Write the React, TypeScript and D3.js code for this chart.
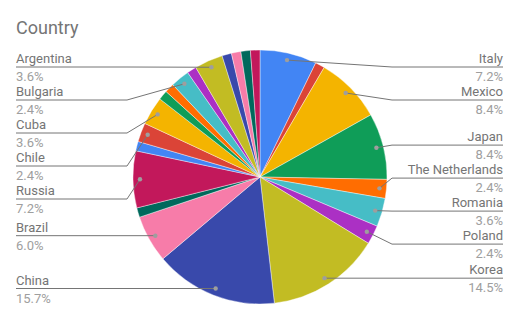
import React from "react";
import * as d3 from "d3";

const title = "Country";
// Slices in drawing order (clockwise from 12 o'clock). Small slices carry no visible label.
const categories = [
  "Italy", "Other 1", "Mexico", "Japan", "The Netherlands", "Romania", "Poland", "Korea",
  "China", "Brazil", "Other 2", "Russia", "Other 3", "Chile", "Cuba", "Other 4",
  "Other 5", "Bulgaria", "Other 6", "Argentina", "Other 7", "Other 8", "Other 9", "Other 10",
];
const counts = [6, 1, 7, 7, 2, 3, 2, 12, 13, 5, 1, 6, 1, 2, 3, 1, 1, 2, 1, 3, 1, 1, 1, 1];
const palette = [
  "#4285f4", "#db4437", "#f4b400", "#0f9d58", "#ff6d01", "#46bdc6",
  "#ab30c4", "#c2bc23", "#3949ab", "#f77ca9", "#00695c", "#c2185b",
];

const W = 519;
const H = 321;
const cx = 260;
const cy = 177;
const R = 127;
const dotR = 120;
const gap = 33;
const minLineY = 67;

function layout(targets: number[]): number[] {
  type C = { idx: number[]; start: number };
  const clusters: C[] = [];
  targets.forEach((t, i) => {
    clusters.push({ idx: [i], start: t });
    while (clusters.length > 1) {
      const b = clusters[clusters.length - 1];
      const a = clusters[clusters.length - 2];
      const aEnd = a.start + (a.idx.length - 1) * gap;
      if (aEnd + gap > b.start) {
        const idx = [...a.idx, ...b.idx];
        const s = d3.mean(idx.map((j, k) => targets[j] - k * gap)) as number;
        clusters.splice(clusters.length - 2, 2, { idx, start: s });
      } else break;
    }
  });
  const pos: number[] = new Array(targets.length);
  clusters.forEach((c) => c.idx.forEach((j, k) => (pos[j] = c.start + k * gap)));
  for (let i = 0; i < pos.length; i++) {
    pos[i] = Math.max(pos[i], minLineY, i > 0 ? pos[i - 1] + gap : -Infinity);
  }
  return pos;
}

export default function App() {
  const total = d3.sum(counts);
  const data = categories.map((c, i) => ({ name: c, value: counts[i], color: palette[i % palette.length] }));
  const pie = d3.pie<any>().sort(null).value((d) => d.value);
  const arcs = pie(data);
  const arcGen = d3.arc<any>().innerRadius(0).outerRadius(R);

  const labeled = arcs
    .filter((a) => a.data.value >= 2)
    .map((a) => {
      const mid = (a.startAngle + a.endAngle) / 2;
      return {
        name: a.data.name,
        pct: ((a.data.value / total) * 100).toFixed(1) + "%",
        dx: cx + dotR * Math.sin(mid),
        dy: cy - dotR * Math.cos(mid),
        right: mid < Math.PI,
      };
    });

  const sides = [true, false].map((right) => {
    const items = labeled.filter((l) => l.right === right).sort((a, b) => a.dy - b.dy);
    const ys = layout(items.map((l) => l.dy));
    return items.map((l, i) => ({ ...l, ly: ys[i] }));
  });
  const labels = sides.flat();

  return (
    <div style={{ position: "absolute", left: 0, top: 0 }}>
      <svg width={W} height={H} style={{ display: "block", fontFamily: "Roboto, sans-serif" }}>
        <rect width={W} height={H} fill="#fff" />
        <text x={16} y={34} fontSize={18} fill="#757575">{title}</text>
        <g transform={`translate(${cx},${cy})`}>
          {arcs.map((a, i) => (
            <path key={i} d={arcGen(a) as string} fill={a.data.color} stroke="#fff" strokeWidth={0.4} />
          ))}
        </g>
        {labels.map((l, i) => {
          const edgeX = l.right ? 503 : 16;
          const bendX = l.right ? cx + R + 5 : cx - R - 6;
          const pts: [number, number][] = [
            [l.dx, l.dy],
            [bendX, l.ly],
            [edgeX, l.ly],
          ];
          const line = d3.line()(pts) as string;
          const anchor = l.right ? "end" : "start";
          return (
            <g key={i}>
              <path d={line} fill="none" stroke="#757575" strokeWidth={1} />
              <circle cx={l.dx} cy={l.dy} r={2.2} fill="#9e9e9e" />
              <text x={edgeX} y={l.ly - 4} fontSize={13} fill="#757575" textAnchor={anchor}>{l.name}</text>
              <text x={edgeX} y={l.ly + 14} fontSize={13} fill="#9e9e9e" textAnchor={anchor}>{l.pct}</text>
            </g>
          );
        })}
      </svg>
    </div>
  );
}
